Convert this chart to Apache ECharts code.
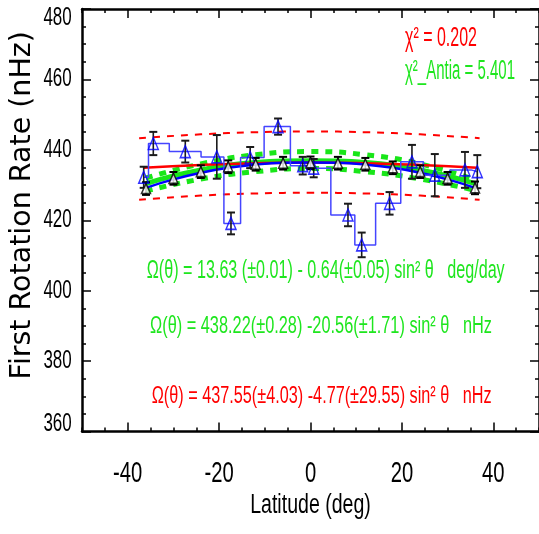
<!DOCTYPE html>
<html>
<head>
<meta charset="utf-8">
<script src="https://cdn.jsdelivr.net/npm/echarts@6/dist/echarts.min.js"></script>
<style>html,body{margin:0;padding:0;background:#fff}#c{width:539px;height:534px}</style>
</head>
<body>
<div id="c"></div>
<script>
// ---------- data ----------
const blackLat = [-36, -30, -24, -18, -12, -6, 0, 6, 12, 18, 24, 30, 36];
const blackVal = [429.0, 431.9, 433.8, 435.2, 435.9, 436.2, 436.3, 436.2, 435.9, 434.9, 433.8, 431.9, 429.2];
const blackErr = [1.8, 1.8, 1.8, 1.8, 1.8, 1.8, 1.8, 1.8, 1.8, 1.8, 1.8, 1.8, 1.8];

const blueLat = [-36.5, -34.4, -27.4, -20.5, -17.4, -13.2, -7.1, -1.7, 0.7, 8.2, 11.2, 17.3, 22.2, 27.2, 33.8, 36.5];
const blueVal = [432.2, 441.8, 439.5, 438.0, 419.1, 437.8, 446.6, 435.5, 434.8, 421.5, 413.0, 424.8, 436.6, 432.8, 434.3, 433.8];
const blueErr = [3.0, 3.3, 3.1, 6.2, 3.1, 3.0, 2.3, 2.5, 2.6, 3.2, 3.5, 3.2, 4.8, 6.0, 5.1, 4.7];

const fitLat = [-36, -30, -24, -18, -12, -6, 0, 6, 12, 18, 24, 30, 36];
const blueFit = [429.2, 431.6, 433.5, 434.9, 435.8, 436.3, 436.4, 436.3, 435.8, 434.9, 433.5, 431.6, 429.2];
const greenFit = [430.4, 432.6, 434.3, 435.6, 436.4, 436.8, 436.9, 436.8, 436.4, 435.6, 434.3, 432.6, 430.4];

const redFitLat = [-36.5, -24, -12, 0, 12, 24, 36.5];
const redFit = [434.9, 435.7, 436.2, 436.4, 436.2, 435.7, 434.9];

const redBandLat = [-37.5, -24, -12, 0, 12, 24, 37];
const redUpper = [443.3, 444.4, 445.0, 445.2, 445.0, 444.4, 443.3];
const redLower = [425.8, 427.0, 427.6, 427.8, 427.6, 427.0, 425.8];

const greenBandLat = [-36, -24, -12, 0, 12, 24, 36];
const greenUpper = [432.0, 436.0, 438.6, 439.5, 438.6, 436.0, 431.5];
const greenLower = [428.3, 431.7, 433.8, 434.7, 433.8, 431.7, 428.5];

const xMajor = [-40, -20, 0, 20, 40];
const yTicks = [360, 380, 400, 420, 440, 460, 480];

const xTitle = 'Latitude (deg)';
const yTitle = 'First Rotation Rate (nHz)';
const chi1 = 'χ² = 0.202';
const chi2 = 'χ²_Antia = 5.401';
const eq1 = 'Ω(θ) = 13.63 (±0.01) - 0.64(±0.05) sin² θ   deg/day';
const eq2 = 'Ω(θ) = 438.22(±0.28) -20.56(±1.71) sin² θ   nHz';
const eq3 = 'Ω(θ) = 437.55(±4.03) -4.77(±29.55) sin² θ   nHz';

// ---------- helpers ----------
const zip = (xs, ys) => xs.map((x, i) => [x, ys[i]]);
const errData = (xs, ys, es) => xs.map((x, i) => [x, ys[i] - es[i], ys[i] + es[i]]);

const mctx = document.createElement('canvas').getContext('2d');
function measure(t, font) { mctx.font = font; return mctx.measureText(t).width; }
const FAM = '"Liberation Sans", Arial, sans-serif';
function fontFor(h) { return (h / 0.716).toFixed(2) + 'px ' + FAM; }
// condensed text element: h = digit/cap height, sx = horizontal scale
function ctext(str, x, cy, font, sx, color, align) {
  return {
    type: 'text', x: x, y: cy, scaleX: sx, z: 100,
    style: { text: str, font: font, fill: color, textAlign: align, textVerticalAlign: 'middle', align: align, verticalAlign: 'middle' }
  };
}
function fitText(str, left, cy, w, h, color) {
  const font = fontFor(h);
  return ctext(str, left, cy, font, w / measure(str, font), color, 'left');
}

const GREEN = '#1ee61e';
const RED = '#ff0000';

function errRender(color, capW) {
  return function (params, api) {
    const x = api.value(0);
    const p1 = api.coord([x, api.value(1)]);
    const p2 = api.coord([x, api.value(2)]);
    return {
      type: 'group', children: [
        { type: 'line', shape: { x1: p1[0], y1: p1[1], x2: p2[0], y2: p2[1] }, style: { stroke: color, lineWidth: 1.6 } },
        { type: 'line', shape: { x1: p1[0] - capW, y1: p1[1], x2: p1[0] + capW, y2: p1[1] }, style: { stroke: color, lineWidth: 2 } },
        { type: 'line', shape: { x1: p2[0] - capW, y1: p2[1], x2: p2[0] + capW, y2: p2[1] }, style: { stroke: color, lineWidth: 2 } }
      ]
    };
  };
}

const axisLineStyle = { color: '#000', width: 2.5 };
const tickStyle = { color: '#000', width: 1.5 };

const xBase = { type: 'value', min: -50, max: 50, splitLine: { show: false }, gridIndex: 0, axisLabel: { show: false } };
const xAxes = [
  Object.assign({}, xBase, { position: 'bottom', interval: 5, axisLine: { show: true, onZero: false, lineStyle: axisLineStyle },
    axisTick: { show: true, inside: true, length: 4, lineStyle: tickStyle } }),
  Object.assign({}, xBase, { position: 'bottom', interval: 10, axisLine: { show: false, onZero: false },
    axisTick: { show: true, inside: true, length: 9, customValues: xMajor, lineStyle: tickStyle } }),
  Object.assign({}, xBase, { position: 'top', interval: 5, axisLine: { show: true, onZero: false, lineStyle: axisLineStyle },
    axisTick: { show: true, inside: true, length: 4, lineStyle: tickStyle } }),
  Object.assign({}, xBase, { position: 'top', interval: 10, axisLine: { show: false, onZero: false },
    axisTick: { show: true, inside: true, length: 9, customValues: xMajor, lineStyle: tickStyle } })
];

const yBase = { type: 'value', min: yTicks[0], max: yTicks[yTicks.length - 1], interval: 20, splitLine: { show: false },
  axisLine: { show: true, onZero: false, lineStyle: axisLineStyle },
  axisTick: { show: true, inside: true, length: 9, lineStyle: tickStyle },
  minorTick: { show: true, splitNumber: 4, length: 4, lineStyle: tickStyle }, axisLabel: { show: false } };
const yAxes = [
  Object.assign({}, yBase, { position: 'left',
    name: yTitle, nameLocation: 'middle', nameGap: 45,
    nameTextStyle: { fontFamily: '"DejaVu Sans", sans-serif', fontSize: 28.5, color: '#000', padding: [0, 0, 0, 30] } }),
  Object.assign({}, yBase, { position: 'right' })
];

const chart = echarts.init(document.getElementById('c'), null, { renderer: 'canvas' });
chart.setOption({
  animation: false,
  backgroundColor: '#fff',
  grid: { left: 82, right: -4.5, top: 9, bottom: 102.5, containLabel: false },
  xAxis: xAxes,
  yAxis: yAxes,
  series: [
    { type: 'line', name: 'green upper', data: zip(greenBandLat, greenUpper), smooth: true, symbol: 'none', z: 2,
      lineStyle: { color: '#19e619', width: 5, type: [7, 7] } },
    { type: 'line', name: 'green lower', data: zip(greenBandLat, greenLower), smooth: true, symbol: 'none', z: 2,
      lineStyle: { color: '#19e619', width: 5, type: [7, 7] } },
    { type: 'line', name: 'green fit', data: zip(fitLat, greenFit), smooth: true, symbol: 'none', z: 3,
      lineStyle: { color: '#19e619', width: 5 } },
    { type: 'line', name: 'red fit', data: zip(redFitLat, redFit), smooth: true, symbol: 'none', z: 4,
      lineStyle: { color: '#ff0000', width: 2.5 } },
    { type: 'line', name: 'blue fit', data: zip(fitLat, blueFit), smooth: true, symbol: 'none', z: 5,
      lineStyle: { color: '#0000ff', width: 2.5 } },
    { type: 'line', name: 'red upper', data: zip(redBandLat, redUpper), smooth: true, symbol: 'none', z: 4,
      lineStyle: { color: '#ff0000', width: 2, type: [7, 7] } },
    { type: 'line', name: 'red lower', data: zip(redBandLat, redLower), smooth: true, symbol: 'none', z: 4,
      lineStyle: { color: '#ff0000', width: 2, type: [7, 7] } },
    { type: 'line', name: 'blue step', data: zip(blueLat, blueVal), step: 'middle', symbol: 'none', z: 6,
      lineStyle: { color: '#4545ff', width: 1.5 } },
    { type: 'custom', name: 'blue err', data: errData(blueLat, blueVal, blueErr), renderItem: errRender('#1a1a1a', 4), z: 7,
      encode: { x: 0, y: [1, 2] } },
    { type: 'custom', name: 'black err', data: errData(blackLat, blackVal, blackErr), renderItem: errRender('#000', 4), z: 7,
      encode: { x: 0, y: [1, 2] } },
    { type: 'scatter', name: 'blue pts', data: zip(blueLat, blueVal), symbol: 'triangle', symbolSize: [10, 12], z: 8,
      itemStyle: { color: 'rgba(255,255,255,0)', borderColor: '#0000ff', borderWidth: 1.5 } },
    { type: 'scatter', name: 'black pts', data: zip(blackLat, blackVal), symbol: 'triangle', symbolSize: [9, 10], z: 8,
      itemStyle: { color: '#ffffff', borderColor: '#000', borderWidth: 1.5 } }
  ]
});

// ---------- tick labels placed through the axes' own scales ----------
const gfx = [];
const yFont = fontFor(18.3);
const ySx = 28.3 / measure('480', yFont);
yTicks.forEach((v, i) => {
  let py = chart.convertToPixel({ yAxisIndex: 0 }, v);
  if (i === yTicks.length - 1) py += 8.5;      // top label kept inside the frame
  if (i === 0) py -= 7.5;                      // bottom label kept inside the frame
  gfx.push(ctext(String(v), 71.7, py, yFont, ySx, '#000', 'right'));
});
const xFont = fontFor(21);
const xSx = 22.5 / measure('20', xFont);
const gridBottom = chart.convertToPixel({ yAxisIndex: 0 }, yTicks[0]);
xMajor.forEach(v => {
  const px = chart.convertToPixel({ xAxisIndex: 0 }, v);
  gfx.push(ctext(String(v), px, gridBottom + 42.5, xFont, xSx, '#000', 'center'));
});
const tFont = fontFor(20);
gfx.push(ctext(xTitle, (chart.convertToPixel({ xAxisIndex: 0 }, 0)), gridBottom + 73.5, tFont, 120.6 / measure(xTitle, tFont), '#000', 'center'));

gfx.push(fitText(chi1, 405, 38.5, 72, 20, RED));
gfx.push(fitText(chi2, 405, 71, 110, 20, GREEN));
gfx.push(fitText(eq1, 146.7, 271, 358, 18, GREEN));
gfx.push(fitText(eq2, 150, 326.7, 342, 16.7, GREEN));
gfx.push(fitText(eq3, 151.7, 396.7, 340, 16.7, RED));

chart.setOption({ graphic: gfx });
</script>
</body>
</html>
